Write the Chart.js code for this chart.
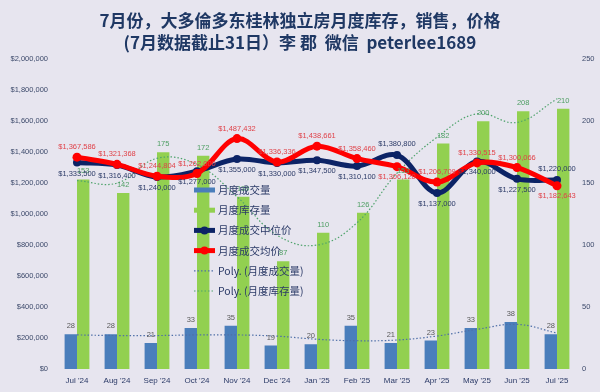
<!DOCTYPE html>
<html>
<head>
<meta charset="utf-8">
<script src="https://cdn.jsdelivr.net/npm/chart.js@4.4.1/dist/chart.umd.min.js"></script>
<style>
  html, body { margin: 0; padding: 0; background: #e7e5ef; }
</style>
</head>
<body>
<canvas id="grafico-imoveis" width="600" height="392"></canvas>
<script>
// Dados (Jul '24 – Jul '25)
const meses = ["Jul '24", "Aug '24", "Sep '24", "Oct '24", "Nov '24", "Dec '24", "Jan '25",
  "Feb '25", "Mar '25", "Apr '25", "May '25", "Jun '25", "Jul '25"];
const vendas = [28, 28, 21, 33, 35, 19, 20, 35, 21, 23, 33, 38, 28];
const estoque = [153, 142, 175, 172, 139, 87, 110, 126, 153, 182, 200, 208, 210];
const precoMediano = [1333500, 1316400, 1240000, 1277000, 1355000, 1330000, 1347500,
  1310100, 1380800, 1137000, 1340000, 1227500, 1220000];
const precoMedio = [1367586, 1321368, 1244804, 1262000, 1487432, 1336336, 1438661,
  1358460, 1306120, 1206709, 1330515, 1300066, 1182643];
// linhas de tendência polinomial
const tendenciaVendas = [27.5, 27, 27, 27.5, 27.5, 26.5, 24, 22.8, 23.4, 26.6, 32, 36, 29];
const tendenciaEstoque = [152, 150, 170, 165, 139, 108, 100, 118, 158, 187, 206, 199, 218];

const dinheiro = v => '$' + Math.round(v).toLocaleString('en-US');
const fonteNum = '7.5px "Liberation Sans", Arial, sans-serif';
const fonteCJK = '"Noto Sans CJK SC", "Noto Sans", sans-serif';

// fundo lilás
const fundo = {
  id: 'fundo',
  beforeDraw(chart) {
    const ctx = chart.ctx;
    ctx.save();
    ctx.fillStyle = '#e7e5ef';
    ctx.fillRect(0, 0, chart.width, chart.height);
    ctx.restore();
  }
};

// rótulos de dados
const rotulos = {
  id: 'rotulos',
  afterDatasetsDraw(chart) {
    const ctx = chart.ctx;
    chart.data.datasets.forEach((ds, i) => {
      if (!ds.rotulo) return;
      const meta = chart.getDatasetMeta(i);
      ctx.save();
      ctx.font = fonteNum;
      ctx.fillStyle = ds.rotulo.cor;
      ctx.textAlign = 'center';
      ctx.textBaseline = 'middle';
      meta.data.forEach((el, j) => {
        const pos = (ds.rotulo.posicoes && ds.rotulo.posicoes[j]) || ds.rotulo.padrao;
        const y = pos === 'acima' ? el.y - ds.rotulo.dist : el.y + ds.rotulo.dist;
        ctx.fillText(ds.rotulo.fmt(ds.data[j]), el.x, y);
      });
      ctx.restore();
    });
  }
};

// legenda dentro da área do gráfico
const legendaInterna = {
  id: 'legendaInterna',
  afterDraw(chart) {
    const ctx = chart.ctx;
    const x0 = 194, y0 = 190, passo = 20.2;
    ctx.save();
    chart.data.datasets.forEach((ds, i) => {
      const y = y0 + i * passo;
      if (ds.type === 'bar') {
        ctx.fillStyle = ds.backgroundColor;
        ctx.fillRect(x0, y - 2.5, 21, 5);
      } else if (ds.borderDash && ds.borderDash.length) {
        ctx.strokeStyle = ds.borderColor;
        ctx.lineWidth = ds.borderWidth;
        ctx.setLineDash(ds.borderDash);
        ctx.beginPath();
        ctx.moveTo(x0, y);
        ctx.lineTo(x0 + 21, y);
        ctx.stroke();
        ctx.setLineDash([]);
      } else {
        ctx.strokeStyle = ds.borderColor;
        ctx.lineWidth = ds.borderWidth;
        ctx.beginPath();
        ctx.moveTo(x0, y);
        ctx.lineTo(x0 + 21, y);
        ctx.stroke();
        ctx.fillStyle = ds.borderColor;
        ctx.beginPath();
        ctx.arc(x0 + 10.5, y, 4, 0, Math.PI * 2);
        ctx.fill();
      }
      ctx.fillStyle = '#2b3a67';
      ctx.font = '10.5px ' + fonteCJK;
      ctx.textAlign = 'left';
      ctx.textBaseline = 'middle';
      ctx.fillText(ds.label, x0 + 24, y);
    });
    ctx.restore();
  }
};

const ctx = document.getElementById('grafico-imoveis').getContext('2d');

new Chart(ctx, {
  type: 'bar',
  data: {
    labels: meses,
    datasets: [
      {
        type: 'bar',
        label: '月度成交量',
        data: vendas,
        yAxisID: 'y1',
        backgroundColor: '#4a7ebb',
        barPercentage: 1.0,
        categoryPercentage: 0.62,
        order: 4,
        rotulo: { cor: '#595959', padrao: 'acima', dist: 8, fmt: v => v }
      },
      {
        type: 'bar',
        label: '月度库存量',
        data: estoque,
        yAxisID: 'y1',
        backgroundColor: '#92d050',
        barPercentage: 1.0,
        categoryPercentage: 0.62,
        order: 5,
        rotulo: { cor: '#4e9e63', padrao: 'acima', dist: 8, fmt: v => v }
      },
      {
        type: 'line',
        label: '月度成交中位价',
        data: precoMediano,
        yAxisID: 'y',
        borderColor: '#0c2366',
        backgroundColor: '#0c2366',
        borderWidth: 5,
        pointRadius: 4,
        pointBackgroundColor: '#0c2366',
        pointBorderWidth: 0,
        tension: 0.35,
        order: 1,
        rotulo: {
          cor: '#2b3a67', padrao: 'abaixo', dist: 11, fmt: dinheiro,
          posicoes: { 8: 'acima', 12: 'acima' }
        }
      },
      {
        type: 'line',
        label: '月度成交均价',
        data: precoMedio,
        yAxisID: 'y',
        borderColor: '#ff0000',
        backgroundColor: '#ff0000',
        borderWidth: 5,
        pointRadius: 4.5,
        pointBackgroundColor: '#ff0000',
        pointBorderWidth: 0,
        tension: 0.35,
        order: 0,
        rotulo: {
          cor: '#e0434a', padrao: 'acima', dist: 10, fmt: dinheiro,
          posicoes: { 8: 'abaixo', 12: 'abaixo' }
        }
      },
      {
        type: 'line',
        label: 'Poly. (月度成交量)',
        data: tendenciaVendas,
        yAxisID: 'y1',
        borderColor: '#4f6fa8',
        borderWidth: 1.2,
        borderDash: [1.5, 2],
        pointRadius: 0,
        tension: 0.4,
        order: 2
      },
      {
        type: 'line',
        label: 'Poly. (月度库存量)',
        data: tendenciaEstoque,
        yAxisID: 'y1',
        borderColor: '#4fa36c',
        borderWidth: 1.2,
        borderDash: [1.5, 2],
        pointRadius: 0,
        tension: 0.4,
        order: 3
      }
    ]
  },
  options: {
    responsive: false,
    animation: false,
    layout: { padding: { left: 0, right: 0, top: 0, bottom: 0 } },
    plugins: {
      legend: { display: false },
      tooltip: { enabled: false },
      title: {
        display: true,
        text: ['7月份，大多倫多东桂林独立房月度库存，销售，价格', '(7月数据截止31日）李 郡  微信  peterlee1689'],
        color: '#1f3864',
        font: { family: fonteCJK, size: 17, weight: 'bold', lineHeight: 1.3 },
        padding: { top: 9, bottom: 6 }
      }
    },
    scales: {
      x: {
        offset: true,
        grid: { display: false, drawTicks: false },
        border: { display: false },
        ticks: { color: '#2b3a67', font: { family: 'Liberation Sans', size: 8 }, padding: 7, maxRotation: 0, autoSkip: false },
        afterFit: s => { s.height = 23; }
      },
      y: {
        position: 'left',
        min: 0,
        max: 2000000,
        ticks: { stepSize: 200000, color: '#3d4a6b', font: { family: 'Liberation Sans', size: 7.5 }, padding: 9, callback: v => dinheiro(v) },
        grid: { display: false, drawTicks: false },
        border: { display: false },
        afterFit: s => { s.width = 57; }
      },
      y1: {
        position: 'right',
        min: 0,
        max: 250,
        ticks: { stepSize: 50, color: '#3d4a6b', font: { family: 'Liberation Sans', size: 7.5 }, padding: 5 },
        grid: { display: false, drawTicks: false },
        border: { display: false },
        afterFit: s => { s.width = 23; }
      }
    }
  },
  plugins: [fundo, rotulos, legendaInterna]
});
</script>
</body>
</html>
